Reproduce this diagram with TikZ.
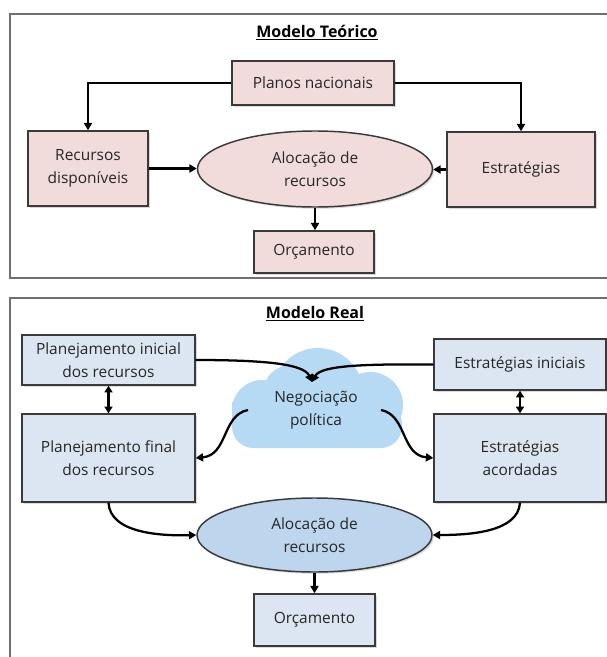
\documentclass[tikz,border=0pt]{standalone}
\usepackage{fontspec}
\setmainfont{Open Sans}
\usetikzlibrary{shapes.geometric,shadows,arrows.meta}
\definecolor{pinkfill}{HTML}{F2DCDB}
\definecolor{bluebox}{HTML}{DCE6F2}
\definecolor{blueell}{HTML}{BDD6EE}
\definecolor{cloudc}{HTML}{B6DAF3}
\definecolor{framec}{HTML}{707070}
\definecolor{edgec}{HTML}{3A3A3A}
\begin{document}
\begin{tikzpicture}[x=0.75pt,y=-0.75pt,
  every node/.style={font=\fontsize{11.6}{17.3}\selectfont, align=center, inner sep=0pt, text=black!85},
  shad/.style={drop shadow={shadow xshift=1.3pt, shadow yshift=-1.3pt, opacity=0.3}},
  box/.style={draw=edgec, line width=1.1pt, rectangle, shad},
  ell/.style={draw=edgec, line width=1.1pt, ellipse, shad},
  conn/.style={line width=1.7pt, -{Triangle[length=5.5pt,width=6pt]}},
  dconn/.style={line width=1.7pt, {Triangle[length=5pt,width=6pt]}-{Triangle[length=5pt,width=6pt]}},
  frame/.style={draw=framec, line width=1.3pt},
  titl/.style={font=\fontsize{12}{14}\selectfont\bfseries, text=black}
]
\useasboundingbox (0,0) rectangle (607,657);
% frames
\draw[frame] (640,14) -- (10,14) -- (10,278) -- (640,278);
\draw[frame] (640,298) -- (10,298) -- (10,680);
% ---------- top: modelo teorico
\node[titl] (t1) at (317,33) {\underline{Modelo Teórico}};
\node[box, fill=pinkfill, minimum width=121.5pt, minimum height=33pt] (planos) at (313,83) {Planos nacionais};
\node[box, fill=pinkfill, minimum width=90pt, minimum height=56.25pt] (recd) at (88,168.5) {Recursos\\disponíveis};
\node[box, fill=pinkfill, minimum width=111pt, minimum height=56.25pt] (estr) at (521,169.5) {Estratégias};
\node[ell, fill=pinkfill, minimum width=176.25pt, minimum height=57pt] (aloc1) at (315,169) {Alocação de\\recursos};
\node[box, fill=pinkfill, minimum width=90pt, minimum height=31.5pt] (orc1) at (314,252) {Orçamento};
\draw[conn] (planos.west) -| (recd.north);
\draw[conn] (planos.east) -| (estr.north);
\draw[conn] (recd.east) -- (recd.east -| aloc1.west);
\draw[conn] (estr.west) -- (estr.west -| aloc1.east);
\draw[conn] (aloc1.south) -- (aloc1.south |- orc1.north);
% ---------- bottom: modelo real
\node[titl] (t2) at (315,314) {\underline{Modelo Real}};
% cloud
\fill[cloudc] (232,402) [rounded corners=16pt] -- (232,448) -- (402,448) -- (402,402) [sharp corners] -- cycle;
\fill[cloudc] (318,393) circle[radius=33.75pt];
\fill[cloudc] (262,410) circle[radius=22.5pt];
\fill[cloudc] (370,405) circle[radius=24.75pt];
\fill[cloudc] (290,392) circle[radius=20pt];
\node (neg) at (316,410) {Negociação\\política};
\coordinate (negin) at (312,382);
\coordinate (negL) at (248,410);
\coordinate (negR) at (381,410);
\node[box, fill=bluebox, minimum width=129.75pt, minimum height=37.5pt] (pi) at (108.5,360) {Planejamento inicial\\dos recursos};
\node[box, fill=bluebox, minimum width=129pt, minimum height=38.25pt] (ei) at (520,364.5) {Estratégias iniciais};
\node[box, fill=bluebox, minimum width=129.75pt, minimum height=66pt] (pf) at (108.5,458) {Planejamento final\\dos recursos};
\node[box, fill=bluebox, minimum width=129pt, minimum height=66pt] (ea) at (520,458) {Estratégias\\acordadas};
\node[ell, fill=blueell, minimum width=176.25pt, minimum height=55.5pt] (aloc2) at (314.5,535) {Alocação de\\recursos};
\node[box, fill=bluebox, minimum width=90.75pt, minimum height=39pt] (orc2) at (314.5,620) {Orçamento};
\draw[dconn] (pi.south) -- (pf.north);
\draw[dconn] (ei.south) -- (ea.north);
\draw[conn] (pi.east) .. controls (265,360) and (304,364) .. (negin);
\draw[conn] (ei.west) .. controls (368,364) and (321,365) .. (negin);
\draw[conn] (negL) .. controls (222,415) and (228,455) .. (pf.east);
\draw[conn] (negR) .. controls (407,415) and (401,455) .. (ea.west);
\draw[conn] (pf.south) .. controls (110,533) and (160,536) .. (aloc2.west);
\draw[conn] (ea.south) .. controls (518,532) and (470,535) .. (aloc2.east);
\draw[conn] (aloc2.south) -- (aloc2.south |- orc2.north);
\end{tikzpicture}
\end{document}
